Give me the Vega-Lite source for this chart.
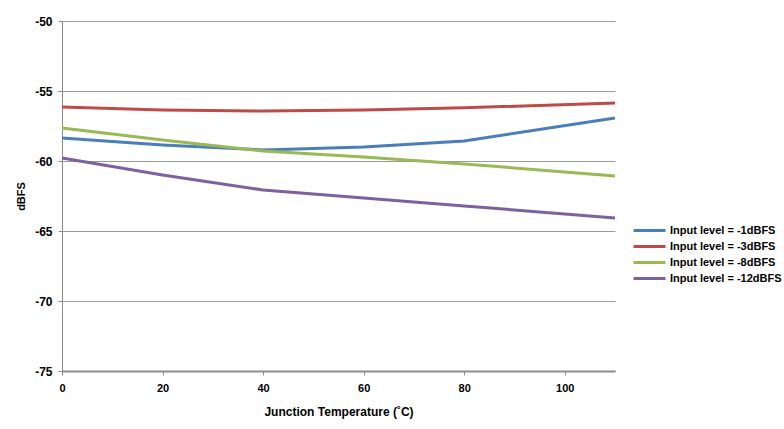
{
  "$schema": "https://vega.github.io/schema/vega-lite/v6.json",
  "width": 553,
  "height": 350,
  "autosize": {"type": "none"},
  "padding": {"left": 62, "top": 21, "right": 169, "bottom": 58},
  "background": "white",
  "config": {
    "view": {"stroke": null},
    "font": "Liberation Sans"
  },
  "data": {
    "values": [
      {"t": 0, "v": -58.36, "s": "Input level = -1dBFS"},
      {"t": 20, "v": -58.85, "s": "Input level = -1dBFS"},
      {"t": 40, "v": -59.21, "s": "Input level = -1dBFS"},
      {"t": 60, "v": -59.0, "s": "Input level = -1dBFS"},
      {"t": 80, "v": -58.57, "s": "Input level = -1dBFS"},
      {"t": 110, "v": -56.93, "s": "Input level = -1dBFS"},
      {"t": 0, "v": -56.14, "s": "Input level = -3dBFS"},
      {"t": 20, "v": -56.36, "s": "Input level = -3dBFS"},
      {"t": 40, "v": -56.43, "s": "Input level = -3dBFS"},
      {"t": 60, "v": -56.36, "s": "Input level = -3dBFS"},
      {"t": 80, "v": -56.2, "s": "Input level = -3dBFS"},
      {"t": 110, "v": -55.86, "s": "Input level = -3dBFS"},
      {"t": 0, "v": -57.64, "s": "Input level = -8dBFS"},
      {"t": 20, "v": -58.5, "s": "Input level = -8dBFS"},
      {"t": 40, "v": -59.29, "s": "Input level = -8dBFS"},
      {"t": 60, "v": -59.71, "s": "Input level = -8dBFS"},
      {"t": 80, "v": -60.21, "s": "Input level = -8dBFS"},
      {"t": 110, "v": -61.07, "s": "Input level = -8dBFS"},
      {"t": 0, "v": -59.79, "s": "Input level = -12dBFS"},
      {"t": 20, "v": -61.0, "s": "Input level = -12dBFS"},
      {"t": 40, "v": -62.07, "s": "Input level = -12dBFS"},
      {"t": 60, "v": -62.64, "s": "Input level = -12dBFS"},
      {"t": 80, "v": -63.21, "s": "Input level = -12dBFS"},
      {"t": 110, "v": -64.07, "s": "Input level = -12dBFS"}
    ]
  },
  "mark": {"type": "line", "strokeWidth": 3},
  "encoding": {
    "x": {
      "field": "t", "type": "quantitative",
      "scale": {"domain": [0, 110], "nice": false, "zero": false},
      "axis": {
        "values": [0, 20, 40, 60, 80, 100],
        "title": "Junction Temperature (˚C)",
        "grid": false,
        "labelFlush": false,
        "domainColor": "#8c8c8c", "domainWidth": 2,
        "tickColor": "#8c8c8c", "tickSize": 4,
        "labelFont": "Liberation Sans", "labelFontWeight": "bold", "labelFontSize": 11, "labelColor": "#000",
        "labelPadding": 7,
        "titleFont": "Liberation Sans", "titleFontWeight": "bold", "titleFontSize": 12, "titleColor": "#000",
        "titlePadding": 13
      }
    },
    "y": {
      "field": "v", "type": "quantitative",
      "scale": {"domain": [-75, -50], "nice": false, "zero": false},
      "axis": {
        "values": [-75, -70, -65, -60, -55, -50],
        "labelExpr": "replace(datum.label, '−', '-')",
        "labelFlush": false,
        "title": "dBFS",
        "grid": true, "gridColor": "#9a9a9a", "gridWidth": 1,
        "domainColor": "#8c8c8c", "domainWidth": 1,
        "tickColor": "#8c8c8c", "tickSize": 4,
        "labelFont": "Liberation Sans", "labelFontWeight": "bold", "labelFontSize": 12, "labelColor": "#000",
        "labelPadding": 6,
        "titleFont": "Liberation Sans", "titleFontWeight": "bold", "titleFontSize": 11, "titleColor": "#000",
        "titlePadding": 8
      }
    },
    "color": {
      "field": "s", "type": "nominal",
      "sort": ["Input level = -1dBFS", "Input level = -3dBFS", "Input level = -8dBFS", "Input level = -12dBFS"],
      "scale": {
        "domain": ["Input level = -1dBFS", "Input level = -3dBFS", "Input level = -8dBFS", "Input level = -12dBFS"],
        "range": ["#4a7ebb", "#be4b48", "#98b954", "#7d60a0"]
      },
      "legend": {
        "title": null,
        "orient": "none",
        "legendX": 578,
        "legendY": 200,
        "symbolType": "M-2,0H2",
        "symbolStrokeWidth": 3,
        "symbolSize": 256,
        "rowPadding": 0,
        "labelFont": "Liberation Sans", "labelFontWeight": "bold", "labelFontSize": 11, "labelColor": "#000",
        "labelOffset": 11
      }
    }
  }
}
